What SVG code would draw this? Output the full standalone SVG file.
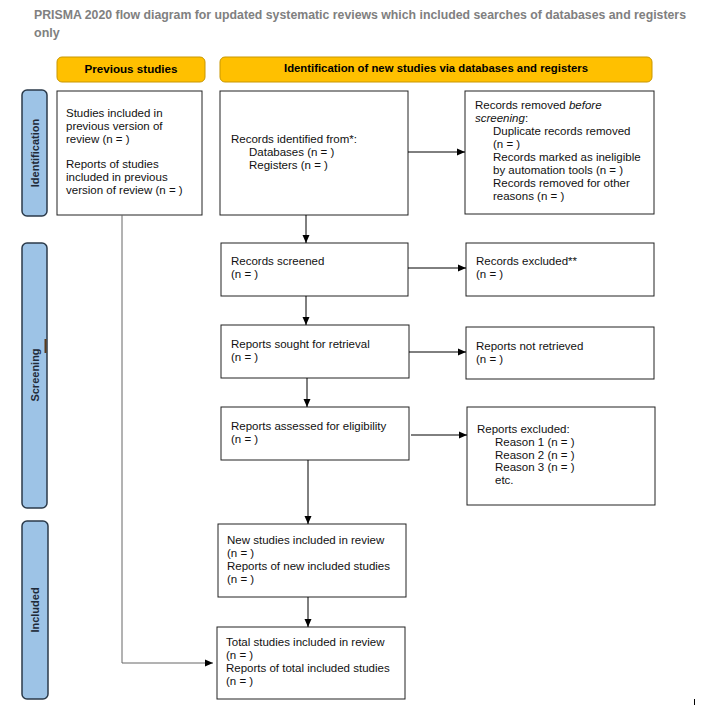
<svg xmlns="http://www.w3.org/2000/svg" width="710" height="706" viewBox="0 0 710 706">
<defs>
<marker id="ah" viewBox="0 0 8 8" refX="8" refY="4" markerWidth="8" markerHeight="8" markerUnits="userSpaceOnUse" orient="auto">
<path d="M0,0.5 L8,4 L0,7.5 Z" fill="#000"/>
</marker>
<style>
.title{font-family:"Liberation Sans",Arial,sans-serif;font-weight:bold;font-size:12.5px;fill:#808080}
.hdr rect{fill:#FFC000;stroke:#C99700;stroke-width:1}
.hdr text{font-family:"Liberation Sans",Arial,sans-serif;font-weight:bold;font-size:11px;fill:#000;text-anchor:middle}
.side rect{fill:#9DC3E6;stroke:#2B3A4A;stroke-width:1.5}
.side text{font-family:"Liberation Sans",Arial,sans-serif;font-weight:bold;font-size:11px;fill:#1F2A38;text-anchor:middle}
.box rect{fill:#fff;stroke:#222;stroke-width:1}
.box text{font-family:"Liberation Sans",Arial,sans-serif;font-size:11.5px;fill:#111}
.conn path{fill:none;stroke:#000;stroke-width:1}
.conn .gray{stroke:#666}
</style>
</defs>
<rect width="710" height="706" fill="#fff"/>
<text class="title" x="34" y="19" textLength="652" lengthAdjust="spacingAndGlyphs">PRISMA 2020 flow diagram for updated systematic reviews which included searches of databases and registers</text>
<text class="title" x="34" y="37">only</text>

<g id="hdr-previous" class="hdr"><rect x="57" y="57" width="148" height="25" rx="5"/><text x="131" y="73" textLength="93" lengthAdjust="spacingAndGlyphs">Previous studies</text></g>
<g id="hdr-identification" class="hdr"><rect x="220" y="57" width="432" height="25" rx="5"/><text x="436" y="72" textLength="304" lengthAdjust="spacingAndGlyphs">Identification of new studies via databases and registers</text></g>

<g id="side-identification" class="side"><rect x="22" y="90" width="25" height="126" rx="5"/><text transform="translate(38.5,153) rotate(-90)">Identification</text></g>
<g id="side-screening" class="side"><rect x="22" y="243" width="25" height="265" rx="5"/><text transform="translate(38.5,375) rotate(-90)">Screening</text></g>
<rect x="44.5" y="339" width="2" height="14" fill="#5A3A1A"/>
<g id="side-included" class="side"><rect x="22" y="521" width="26" height="178" rx="5"/><text transform="translate(39,610) rotate(-90)">Included</text></g>

<g id="previous" class="box"><rect x="57" y="91" width="145" height="124"/>
<text x="66" y="117">Studies included in</text><text x="66" y="130">previous version of</text><text x="66" y="143">review (n = )</text>
<text x="66" y="168">Reports of studies</text><text x="66" y="181">included in previous</text><text x="66" y="194">version of review (n = )</text></g>

<g id="identified" class="box"><rect x="220" y="91" width="188" height="124"/>
<text x="231" y="143">Records identified from*:</text><text x="249" y="156">Databases (n = )</text><text x="249" y="169">Registers (n = )</text></g>

<g id="removed" class="box"><rect x="465" y="91" width="189" height="123"/>
<text x="475" y="109">Records removed <tspan font-style="italic">before</tspan></text><text x="475" y="122"><tspan font-style="italic">screening</tspan>:</text>
<text x="493" y="135">Duplicate records removed</text><text x="493" y="148">(n = )</text>
<text x="493" y="161">Records marked as ineligible</text><text x="493" y="174">by automation tools (n = )</text>
<text x="493" y="187">Records removed for other</text><text x="493" y="200">reasons (n = )</text></g>

<g id="screened" class="box"><rect x="221" y="243" width="187" height="53"/>
<text x="231" y="265">Records screened</text><text x="231" y="278">(n = )</text></g>
<g id="excluded" class="box"><rect x="466" y="243" width="188" height="53"/>
<text x="476" y="265">Records excluded**</text><text x="476" y="278">(n = )</text></g>

<g id="sought" class="box"><rect x="221" y="325" width="188" height="53"/>
<text x="231" y="348">Reports sought for retrieval</text><text x="231" y="361">(n = )</text></g>
<g id="notretrieved" class="box"><rect x="466" y="327" width="188" height="52"/>
<text x="476" y="350">Reports not retrieved</text><text x="476" y="363">(n = )</text></g>

<g id="assessed" class="box"><rect x="221" y="407" width="188" height="53"/>
<text x="231" y="430">Reports assessed for eligibility</text><text x="231" y="443">(n = )</text></g>
<g id="reportsexcluded" class="box"><rect x="467" y="407" width="188" height="98"/>
<text x="477" y="433">Reports excluded:</text><text x="495" y="446">Reason 1 (n = )</text><text x="495" y="459">Reason 2 (n = )</text><text x="495" y="471">Reason 3 (n = )</text><text x="495" y="484">etc.</text></g>

<g id="newstudies" class="box"><rect x="218" y="524" width="188" height="73"/>
<text x="227" y="544">New studies included in review</text><text x="227" y="557">(n = )</text><text x="227" y="570">Reports of new included studies</text><text x="227" y="583">(n = )</text></g>

<g id="total" class="box"><rect x="217" y="627" width="188" height="72"/>
<text x="226" y="646">Total studies included in review</text><text x="226" y="659">(n = )</text><text x="226" y="672">Reports of total included studies</text><text x="226" y="685">(n = )</text></g>

<g id="connectors" class="conn">
<path d="M408,152 H465" marker-end="url(#ah)"/>
<path d="M306,215 V243" marker-end="url(#ah)"/>
<path d="M408,268 H466" marker-end="url(#ah)"/>
<path d="M306,296 V325" marker-end="url(#ah)"/>
<path d="M409,352 H466" marker-end="url(#ah)"/>
<path d="M307,378 V407" marker-end="url(#ah)"/>
<path d="M411,435 H467" marker-end="url(#ah)"/>
<path d="M308,460 V524" marker-end="url(#ah)"/>
<path d="M308,597 V627" marker-end="url(#ah)"/>
<path class="gray" d="M122,215 V663 H213" marker-end="url(#ah)"/>
</g>
<rect x="694" y="699" width="1" height="6" fill="#000"/>
</svg>
